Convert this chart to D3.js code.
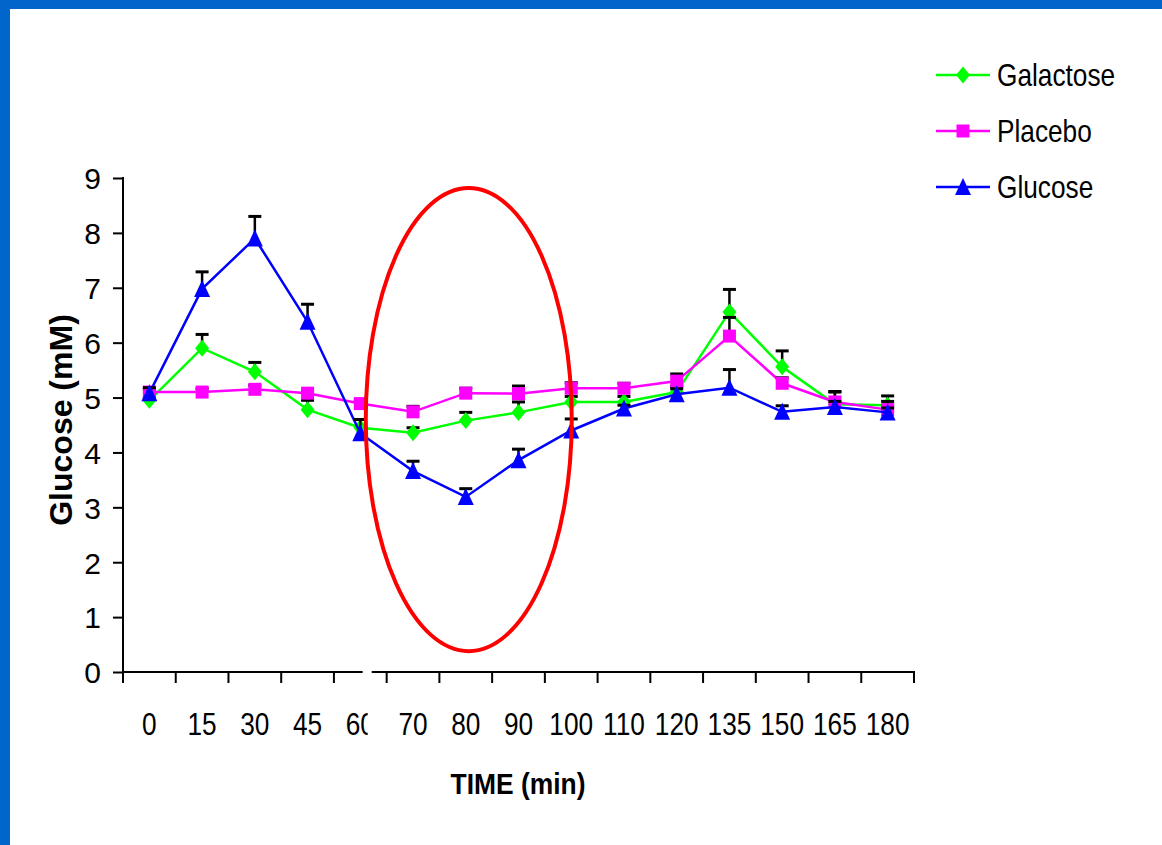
<!DOCTYPE html>
<html>
<head>
<meta charset="utf-8">
<script src="https://cdn.jsdelivr.net/npm/d3@7"></script>
<style>
  html, body { margin: 0; padding: 0; background: #ffffff; }
  svg { display: block; }
  text { font-family: "Liberation Sans", Arial, sans-serif; fill: #000; }
</style>
</head>
<body>
<svg id="chart" width="1162" height="845"></svg>
<script>
// Time points (min) shown along the x axis
const categories = ["0", "15", "30", "45", "60", "70", "80", "90", "100", "110", "120", "135", "150", "165", "180"];

// Mean plasma glucose (mM) per condition, with upper SEM
const galactose    = [4.95, 5.90, 5.47, 4.78, 4.45, 4.36, 4.58, 4.73, 4.92, 4.92, 5.10, 6.56, 5.56, 4.88, 4.86];
const galactoseErr = [0.05, 0.25, 0.17, 0.17, 0.15, 0.09, 0.15, 0.19, 0.10, 0.10, 0.10, 0.41, 0.29, 0.23, 0.17];
const placebo      = [5.10, 5.10, 5.15, 5.08, 4.89, 4.74, 5.08, 5.07, 5.17, 5.17, 5.30, 6.12, 5.26, 4.92, 4.78];
const placeboErr   = [0.05, 0.06, 0.07, 0.04, 0.05, 0.10, 0.09, 0.14, 0.10, 0.09, 0.13, 0.34, 0.10, 0.18, 0.15];
const glucose      = [5.08, 6.98, 7.90, 6.38, 4.35, 3.66, 3.19, 3.86, 4.40, 4.80, 5.06, 5.18, 4.74, 4.83, 4.73];
const glucoseErr   = [0.10, 0.31, 0.40, 0.32, 0.25, 0.18, 0.15, 0.20, 0.21, 0.06, 0.10, 0.33, 0.11, 0.10, 0.08];

const yTicks = [0, 1, 2, 3, 4, 5, 6, 7, 8, 9];

const seriesNames  = ["Galactose", "Placebo", "Glucose"];
const seriesColors = ["#00ff00", "#ff00ff", "#0000ff"];
const seriesShapes = ["diamond", "square", "triangle"];

const series = [
  { name: seriesNames[0], color: seriesColors[0], shape: seriesShapes[0], values: galactose, err: galactoseErr },
  { name: seriesNames[1], color: seriesColors[1], shape: seriesShapes[1], values: placebo,   err: placeboErr },
  { name: seriesNames[2], color: seriesColors[2], shape: seriesShapes[2], values: glucose,   err: glucoseErr }
];

const svg = d3.select("#chart");

// Blue frame along the top and left edges
svg.append("rect").attr("x", 0).attr("y", 0).attr("width", 1162).attr("height", 9).attr("fill", "#0066cc");
svg.append("rect").attr("x", 0).attr("y", 0).attr("width", 10).attr("height", 845).attr("fill", "#0066cc");

const plotLeft = 123, plotRight = 914, plotTop = 178, plotBottom = 672;

const x = d3.scaleBand().domain(categories).range([plotLeft, plotRight]).paddingInner(0).paddingOuter(0);
const y = d3.scaleLinear().domain([0, 9]).range([plotBottom, plotTop]);
const cx = c => x(c) + x.bandwidth() / 2;

const narrow = 0.82;

// Marker path generators
function markerPath(shape) {
  if (shape === "diamond") return "M0,-8.5L7,0L0,8.5L-7,0Z";
  if (shape === "square") return "M-6.5,-6.5H6.5V6.5H-6.5Z";
  return "M0,-9L8,8L-8,8Z";
}

// Y axis
const yAxis = d3.axisLeft(y).tickValues(yTicks).tickSize(10).tickPadding(12).tickFormat(d3.format("d"));
const yg = svg.append("g").attr("transform", `translate(${plotLeft},0)`).call(yAxis);
yg.select(".domain").remove();
yg.selectAll(".tick line").attr("stroke", "#000").attr("stroke-width", 2);
yg.selectAll(".tick text").attr("font-size", 30).attr("font-family", "Liberation Sans, Arial, sans-serif")
  .attr("dy", "0.36em");
svg.append("line").attr("x1", plotLeft).attr("x2", plotLeft).attr("y1", plotTop - 1).attr("y2", plotBottom + 11)
  .attr("stroke", "#000").attr("stroke-width", 2);

// X axis: ticks at category boundaries, labels centred in each band
const xg = svg.append("g");
xg.append("line").attr("x1", plotLeft).attr("x2", plotRight + 1).attr("y1", plotBottom).attr("y2", plotBottom)
  .attr("stroke", "#000").attr("stroke-width", 2);
const boundaries = categories.map(c => x(c)).concat([plotRight]);
xg.selectAll("line.tick").data(boundaries).join("line").attr("class", "tick")
  .attr("x1", d => d).attr("x2", d => d).attr("y1", plotBottom).attr("y2", plotBottom + 11)
  .attr("stroke", "#000").attr("stroke-width", 2);
xg.selectAll("text.tl").data(categories).join("text").attr("class", "tl")
  .attr("transform", d => `translate(${cx(d)},735) scale(${narrow},1)`)
  .attr("text-anchor", "middle").attr("font-size", 32).text(d => d);

// Axis break between 60 and 70 min
const breakX = x("70") - 24;
svg.append("rect").attr("x", breakX).attr("y", plotBottom - 6).attr("width", 9).attr("height", 20).attr("fill", "#fff");
svg.append("rect").attr("x", breakX + 5).attr("y", 700).attr("width", 10).attr("height", 45).attr("fill", "#fff");

// Axis titles
svg.append("text").attr("transform", "translate(518,794) scale(0.88,1)").attr("text-anchor", "middle")
  .attr("font-size", 30).attr("font-weight", "bold").text("TIME (min)");
svg.append("text").attr("transform", "translate(72,420) rotate(-90)").attr("text-anchor", "middle")
  .attr("font-size", 32).attr("font-weight", "bold").text("Glucose (mM)");

// Series: line, upper error bars, markers
const line = d3.line().x((d, i) => cx(categories[i])).y(d => y(d));
series.forEach(s => {
  const g = svg.append("g");
  g.append("path").attr("d", line(s.values)).attr("fill", "none").attr("stroke", s.color).attr("stroke-width", 2.5);
  const eb = g.selectAll("g.eb").data(s.values.map((v, i) => ({ c: categories[i], v, e: s.err[i] }))).join("g");
  eb.append("line").attr("x1", d => cx(d.c)).attr("x2", d => cx(d.c)).attr("y1", d => y(d.v)).attr("y2", d => y(d.v + d.e))
    .attr("stroke", "#000").attr("stroke-width", 2.5);
  eb.append("line").attr("x1", d => cx(d.c) - 6.5).attr("x2", d => cx(d.c) + 6.5).attr("y1", d => y(d.v + d.e)).attr("y2", d => y(d.v + d.e))
    .attr("stroke", "#000").attr("stroke-width", 3);
  g.selectAll("path.mk").data(s.values).join("path").attr("class", "mk")
    .attr("transform", (d, i) => `translate(${cx(categories[i])},${y(d)})`)
    .attr("d", markerPath(s.shape)).attr("fill", s.color);
});

// Highlight ellipse around the 70-100 min window
svg.append("ellipse").attr("cx", cx("80") + 3).attr("cy", y(4.6)).attr("rx", 103).attr("ry", y(0.38) - y(4.6))
  .attr("fill", "none").attr("stroke", "#ff0000").attr("stroke-width", 4);

// Legend
const legend = svg.append("g");
series.forEach((s, i) => {
  const ly = 75 + i * 56;
  legend.append("line").attr("x1", 936).attr("x2", 990).attr("y1", ly).attr("y2", ly).attr("stroke", s.color).attr("stroke-width", 2.5);
  legend.append("path").attr("transform", `translate(963,${ly})`).attr("d", markerPath(s.shape)).attr("fill", s.color);
  legend.append("text").attr("transform", `translate(997,${ly + 11}) scale(${narrow},1)`).attr("font-size", 32).text(s.name);
});
</script>
</body>
</html>
